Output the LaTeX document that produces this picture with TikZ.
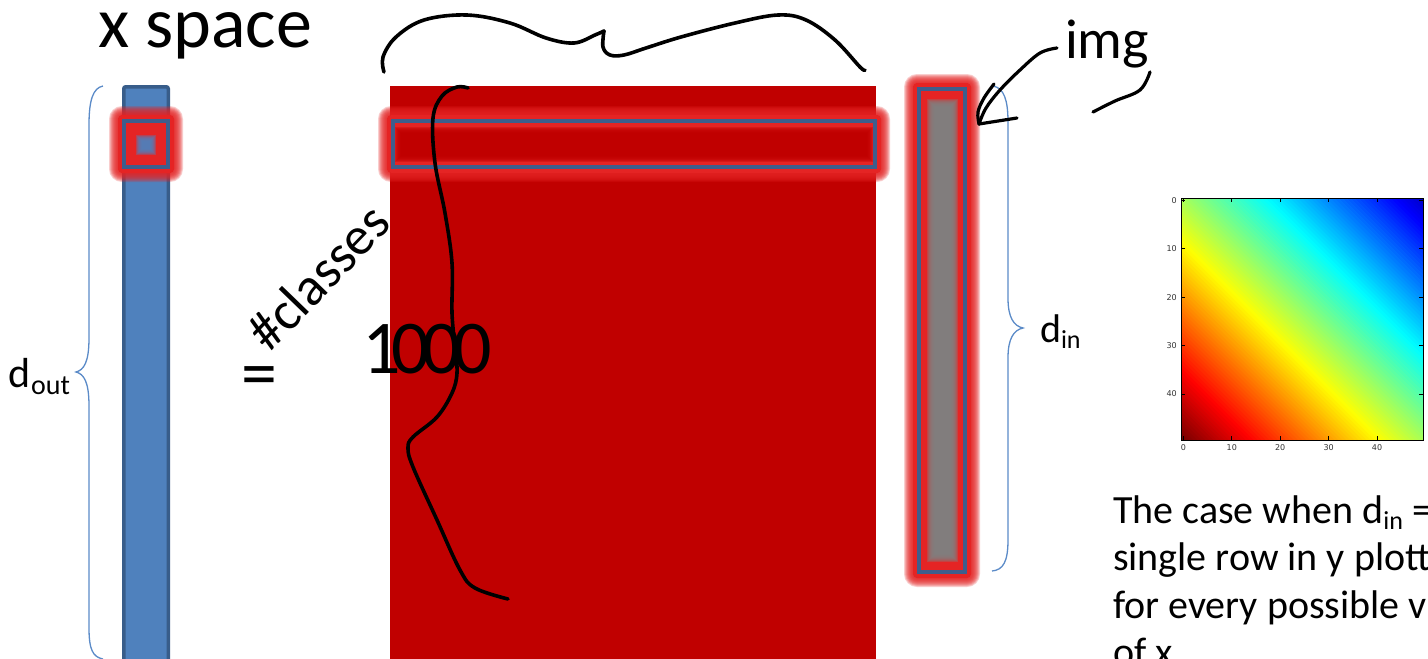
\documentclass[tikz,border=0pt]{standalone}
\usepackage{fontspec}
\setmainfont{Carlito}
\newfontfamily\tickfont{DejaVu Sans}
\usetikzlibrary{arrows.meta}

\definecolor{sqred}{HTML}{C00000}
\definecolor{glowred}{RGB}{229,36,36}
\definecolor{edgeblue}{RGB}{62,94,140}
\definecolor{barblue}{HTML}{4F81BD}
\definecolor{barline}{HTML}{385D8A}
\definecolor{braceblue}{RGB}{91,139,200}
\definecolor{midgray}{HTML}{808080}
\definecolor{ticktext}{HTML}{333333}

\tikzset{
  brace/.style={draw=braceblue, line width=1.3pt},
  hand/.style={draw=black, line width=3.6pt, line cap=round, line join=round},
  frame/.style={draw=edgeblue, line width=4pt},
  lbl/.style={inner sep=0pt, outer sep=0pt},
  ticklbl/.style={inner sep=0pt, text=ticktext, font=\tickfont\fontsize{8}{8}\selectfont},
}

\newcommand\GlowBox[4]{%
  \fill[glowred, rounded corners=4pt] (#1-4,#2-4) rectangle (#3+4,#4+4);
  \foreach \gi in {5,...,13}{\fill[glowred, opacity=0.22, rounded corners=\gi pt] (#1-\gi,#2-\gi) rectangle (#3+\gi,#4+\gi);}%
}
\newcommand\SoftBox[6]{%
  \foreach \gi in {0,...,#6}{\fill[#5, opacity=0.35] (#1+\gi,#2+\gi) rectangle (#3-\gi,#4-\gi);}%
}
\newcommand\subtx[3]{\raisebox{-#2pt}{\fontsize{#1}{#1}\selectfont #3}}

\begin{document}
\begin{tikzpicture}[x=1pt,y=-1pt]
\useasboundingbox (0,0) rectangle (1428,659);
\clip (0,0) rectangle (1428,659);
\fill[white] (0,0) rectangle (1428,659);

% title
\node[lbl, anchor=base west, font=\fontsize{72}{72}\selectfont] (title) at (98,47) {x space};

% ---- blue output bar
\draw[fill=barblue, draw=barline, line width=3.5pt, rounded corners=2pt] (123.75,86.75) rectangle (168.25,700);
\GlowBox{122}{119}{170}{169}
\SoftBox{136}{135}{156}{155}{barblue}{6}
\draw[frame] (124,121) rectangle (168,167);

% left brace and label
\draw[brace] (103,86) .. controls (93,88) and (89,100) .. (89,125) -- (89,338)
  .. controls (89,362) and (84,370) .. (76,372) .. controls (84,374) and (89,382) .. (89,406)
  -- (89,628) .. controls (89,650) and (93,657) .. (103,659);
\node[lbl, anchor=base west, font=\fontsize{42}{42}\selectfont] (dout) at (9,387) {d\subtx{28}{7}{out}};

% equals
\node[lbl, anchor=base, font=\fontsize{72}{72}\selectfont] (eq) at (259,397) {=};

% ---- red weight matrix
\fill[sqred] (390,86) rectangle (876,700);
\GlowBox{391}{119}{877}{169}
\SoftBox{395}{127}{873}{162}{sqred}{9}
\draw[frame] (393,121) rectangle (875,167);

% ---- right input bar
\GlowBox{917}{87}{967}{574}
\SoftBox{927}{99}{958}{562}{midgray}{8}
\draw[frame] (919,89) rectangle (965,572);

% right brace and label
\draw[brace] (993,86) .. controls (1004,88) and (1008,100) .. (1008,122) -- (1008,298)
  .. controls (1008,318) and (1014,326) .. (1023,328) .. controls (1014,330) and (1008,338) .. (1008,358)
  -- (1008,540) .. controls (1008,562) and (1003,570) .. (992,571);
\node[lbl, anchor=base west, font=\fontsize{40}{40}\selectfont] (din) at (1040,342) {d\subtx{26}{6}{in}};

% ---- heat map
\begin{scope}[shift={(1181,198)}]
  \begin{scope}
    \clip (0,0) rectangle (242,242);
    \foreach \jk in {0,...,119}{
      \pgfmathsetmacro\bandA{-242+4.033333*\jk}
      \pgfmathsetmacro\bandB{\bandA+4.833333}
      \pgfmathsetmacro\jv{0.54+0.47*(-1+(2*\jk+1)/120)}
      \pgfmathsetmacro\jr{min(1,max(0,1.5-abs(4*\jv-3)))}
      \pgfmathsetmacro\jg{min(1,max(0,1.5-abs(4*\jv-2)))}
      \pgfmathsetmacro\jb{min(1,max(0,1.5-abs(4*\jv-1)))}
      \definecolor{jc}{rgb}{\jr,\jg,\jb}
      \fill[jc] (-10,-10+\bandA) -- (260,260+\bandA) -- (260,260+\bandB) -- (-10,-10+\bandB) -- cycle;
    }
  \end{scope}
  \draw[black, line width=0.8pt] (0,0) rectangle (242,242);
  \foreach \ti in {0,1,2,3,4}{
    \pgfmathsetmacro\tp{4.84*(10*\ti+0.5)}
    \draw[black, line width=0.7pt] (\tp,242) -- (\tp,238);
    \draw[black, line width=0.7pt] (\tp,0) -- (\tp,4);
    \draw[black, line width=0.7pt] (0,\tp) -- (4,\tp);
    \draw[black, line width=0.7pt] (242,\tp) -- (238,\tp);
  }
  \node[ticklbl, anchor=north] (bx0) at (2.4,246) {0};
  \node[ticklbl, anchor=north] (bx1) at (50.8,246) {10};
  \node[ticklbl, anchor=north] (bx2) at (99.2,246) {20};
  \node[ticklbl, anchor=north] (bx3) at (147.6,246) {30};
  \node[ticklbl, anchor=north] (bx4) at (196,246) {40};
  \node[ticklbl, anchor=east] (ly0) at (-4,2.4) {0};
  \node[ticklbl, anchor=east] (ly1) at (-4,50.8) {10};
  \node[ticklbl, anchor=east] (ly2) at (-4,99.2) {20};
  \node[ticklbl, anchor=east] (ly3) at (-4,147.6) {30};
  \node[ticklbl, anchor=east] (ly4) at (-4,196) {40};
\end{scope}

% caption
\node[lbl, anchor=base west, font=\fontsize{40}{40}\selectfont] (cap1) at (1113,523) {The case when d\subtx{26}{6}{in} =};
\node[lbl, anchor=base west, font=\fontsize{40}{40}\selectfont] (cap2) at (1113,570.5) {single row in y plott};
\node[lbl, anchor=base west, font=\fontsize{40}{40}\selectfont] (cap3) at (1113,618) {for every possible v};
\node[lbl, anchor=base west, font=\fontsize{40}{40}\selectfont] (cap4) at (1113,665.5) {of x};

% ---- handwriting
\draw[hand] plot[smooth, tension=0.6] coordinates {(384,72) (383,57) (396,37) (424,20) (467,15) (510,23) (546,38) (574,43) (595,35) (604,31)};
\draw[hand] plot[smooth, tension=0.6] coordinates {(604,31) (603,47) (610,55) (624,55) (646,48) (681,37) (735,23) (778,15) (806,20) (835,40) (860,67) (865,70)};

\draw[hand] plot[smooth, tension=0.6] coordinates {(468,88) (457,87) (442,96) (433,118) (435,163) (445,213) (452,263) (452,313) (455,347) (457,373) (452,393) (437,417) (413,437) (408,448) (413,467) (437,520) (460,570) (475,588) (508,599)};

\node[lbl, rotate=46, font=\fontsize{54}{54}\selectfont] (classes) at (318,277) {\#classes};
\node[lbl, anchor=base west, font=\fontsize{76}{76}\selectfont] (thousand) at (362,373) {1\kern-9pt 0\kern-8pt 0\kern-7pt 0};

\node[lbl, anchor=base west, font=\fontsize{56}{56}\selectfont] (img) at (1065,58) {img};
\coordinate (imgtail) at (1057,48);
\coordinate (imgtip) at (979,124);
\draw[hand, line width=3.2pt] plot[smooth, tension=0.6] coordinates {(imgtail) (1040,53) (1020,70) (1000,90) (986,108) (imgtip)};
\draw[hand, line width=3.2pt] plot[smooth, tension=0.6] coordinates {(994,84) (984,98) (978,112) (imgtip)};
\draw[hand, line width=3.2pt] (imgtip) -- (1017,118);
\draw[hand, line width=3.2pt] plot[smooth, tension=0.6] coordinates {(1150,72) (1140,90) (1115,101) (1093,112)};

\end{tikzpicture}
\end{document}
